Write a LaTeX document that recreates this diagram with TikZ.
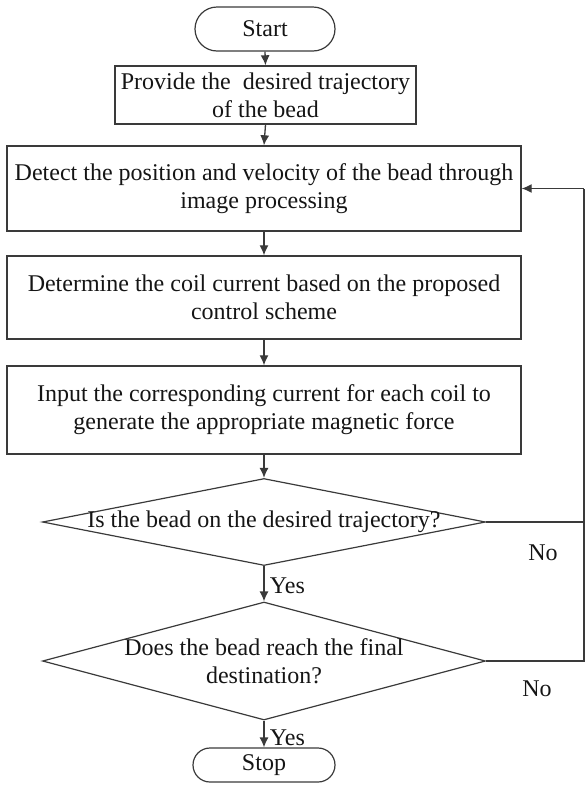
\documentclass[tikz,border=0pt]{standalone}
\usepackage{fontspec}
\setmainfont{Liberation Serif}
\usetikzlibrary{shapes.geometric,arrows.meta}
\definecolor{linegray}{HTML}{3A3A3A}
\definecolor{txt}{HTML}{151515}
\begin{document}
\begin{tikzpicture}[x=1pt,y=-1pt,
  every node/.style={font=\fontsize{24}{28}\selectfont, text=txt},
  procbox/.style={draw=linegray, line width=1.4pt, inner sep=0pt, align=center},
  termbox/.style={draw=linegray, line width=1.2pt, rounded corners=17pt, inner sep=0pt},
  decbox/.style={draw=linegray, line width=1.2pt, diamond, inner sep=0pt},
  flow/.style={draw=linegray, line width=1.3pt, -{Latex[length=10pt,width=9pt]}},
  plain/.style={draw=linegray, line width=1.3pt}]
\useasboundingbox (0,0) rectangle (585,785);
\node[termbox, minimum width=140pt, minimum height=44pt, rounded corners=22pt] (start) at (265,29) {Start};
\node[procbox, minimum width=301pt, minimum height=58pt] (provide) at (265.5,95) {Provide the~ desired trajectory\\of the bead};
\node[procbox, minimum width=514pt, minimum height=85pt] (detect) at (264,188.5) {Detect the position and velocity of the bead through\\image processing};
\node[procbox, minimum width=514pt, minimum height=83pt] (determine) at (264,297.5) {Determine the coil current based on the proposed\\control scheme};
\node[procbox, minimum width=514pt, minimum height=88pt] (input) at (264,410) {Input the corresponding current for each coil to\\generate the appropriate magnetic force};
\node[decbox, minimum width=443pt, minimum height=87pt] (d1) at (264,522) {};
\node (d1t) at (264,522) {Is the bead on the desired trajectory?};
\node[decbox, minimum width=443pt, minimum height=118pt] (d2) at (264,661) {};
\node[align=center] (d2t) at (264,661) {Does the bead reach the final\\destination?};
\node[termbox, minimum width=142pt, minimum height=34pt] (stop) at (264,765) {Stop};
\coordinate (r1) at (584,522);
\coordinate (r2) at (584,661);
\coordinate (r3) at (584,188.5);
\draw[flow] (start.south) -- (provide.north);
\draw[flow] (provide.south) -- (detect.north);
\draw[flow] (detect.south) -- (determine.north);
\draw[flow] (determine.south) -- (input.north);
\draw[flow] (input.south) -- (d1.north);
\draw[flow] (d1.south) -- node[right, xshift=2pt, yshift=-2pt] (yes1) {Yes} (d2.north);
\draw[flow] (d2.south) -- node[right, xshift=2pt, yshift=-4pt] (yes2) {Yes} (stop.north);
\draw[plain] (d1.east) -- (r1);
\draw[plain] (d2.east) -- (r2) -- (r3);
\draw[flow] (r3) -- (detect.east);
\node (no1) at (543,553) {No};
\node (no2) at (537,689) {No};
\end{tikzpicture}
\end{document}
